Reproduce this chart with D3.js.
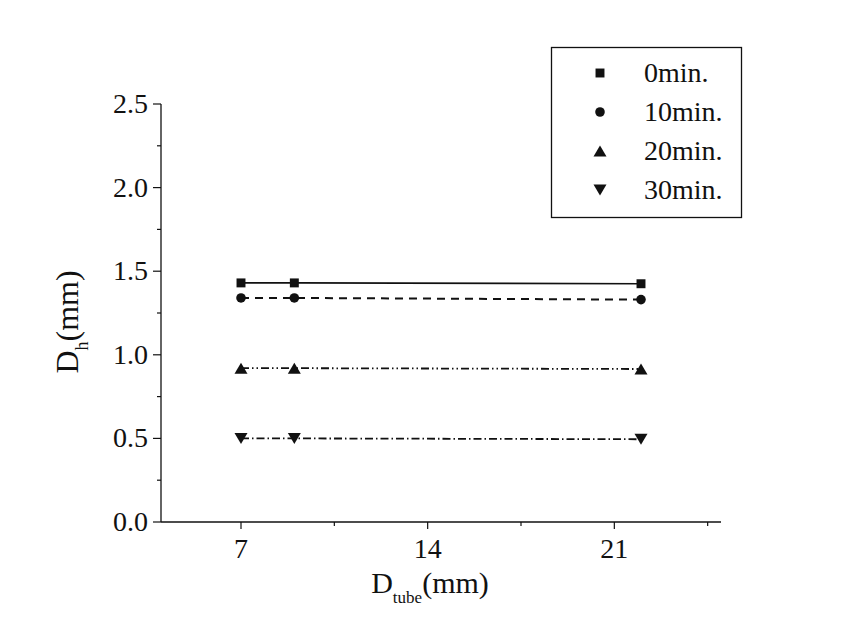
<!DOCTYPE html>
<html><head><meta charset="utf-8">
<script src="https://cdn.jsdelivr.net/npm/d3@7"></script>
<style>
body{margin:0;background:#fff;}
</style></head>
<body><svg id="c" width="862" height="622"></svg>
<script>
const xValues = [7, 9, 22];
const seriesNames = ["0min.", "10min.", "20min.", "30min."];
const values0 = [1.43, 1.43, 1.425];
const values10 = [1.34, 1.34, 1.33];
const values20 = [0.92, 0.92, 0.915];
const values30 = [0.50, 0.50, 0.495];
const xTicks = [7, 14, 21];
const xMinorTicks = [10.5, 17.5, 24.5];
const yTicks = [0, 0.5, 1.0, 1.5, 2.0, 2.5];
const yMinorTicks = [0.25, 0.75, 1.25, 1.75, 2.25];

const FONT = "'Liberation Serif', 'Times New Roman', serif";
const tri = {draw(ctx, size) { const w = 6.5, h = 5.5; ctx.moveTo(0, -h); ctx.lineTo(w, h); ctx.lineTo(-w, h); ctx.closePath(); }};
const series = [
  {name: seriesNames[0], vals: values0, sym: d3.symbolSquare, size: 80, dash: null, rot: 0, sw: 1.6},
  {name: seriesNames[1], vals: values10, sym: d3.symbolCircle, size: 72, dash: "8,6", rot: 0, sw: 2},
  {name: seriesNames[2], vals: values20, sym: tri, size: 1, dash: "8,3,1.5,3,1.5,3", rot: 0, sw: 1.8},
  {name: seriesNames[3], vals: values30, sym: tri, size: 1, dash: "8,3,1.5,3", rot: 180, sw: 1.8}
];

const svg = d3.select("#c");
const x = d3.scaleLinear().domain([4, 25]).range([161, 721]);
const y = d3.scaleLinear().domain([0, 2.5]).range([522, 104]);
const ink = "#111";

// X axis
const gx = svg.append("g").attr("transform", "translate(0,522)");
gx.append("line").attr("x1", x(4)).attr("x2", x(25)).attr("stroke", ink).attr("stroke-width", 1.3);
gx.selectAll(".xt").data(xTicks).join("line").attr("x1", d => x(d)).attr("x2", d => x(d))
  .attr("y1", 0).attr("y2", 7).attr("stroke", ink).attr("stroke-width", 1.2);
gx.selectAll(".xm").data(xMinorTicks).join("line").attr("x1", d => x(d)).attr("x2", d => x(d))
  .attr("y1", 0).attr("y2", 4).attr("stroke", ink).attr("stroke-width", 1.2);
gx.selectAll(".xl").data(xTicks).join("text").attr("x", d => x(d)).attr("y", 36)
  .attr("text-anchor", "middle").style("font-family", FONT).attr("font-size", 28).attr("fill", ink).text(d => d);

// Y axis
const gy = svg.append("g").attr("transform", "translate(161,0)");
gy.append("line").attr("y1", y(0)).attr("y2", y(2.5)).attr("stroke", ink).attr("stroke-width", 1.3);
gy.selectAll(".yt").data(yTicks).join("line").attr("y1", d => y(d)).attr("y2", d => y(d))
  .attr("x1", 0).attr("x2", -8).attr("stroke", ink).attr("stroke-width", 1.2);
gy.selectAll(".ym").data(yMinorTicks).join("line").attr("y1", d => y(d)).attr("y2", d => y(d))
  .attr("x1", 0).attr("x2", -4).attr("stroke", ink).attr("stroke-width", 1.2);
gy.selectAll(".yl").data(yTicks).join("text").attr("x", -13).attr("y", d => y(d) + 9)
  .attr("text-anchor", "end").style("font-family", FONT).attr("font-size", 28).attr("fill", ink).text(d => d.toFixed(1));

// Axis titles
const xt = svg.append("text").attr("x", 430).attr("y", 593).attr("text-anchor", "middle")
  .style("font-family", FONT).attr("font-size", 30).attr("fill", ink);
xt.append("tspan").text("D");
xt.append("tspan").attr("font-size", 17).attr("dy", 10).text("tube");
xt.append("tspan").attr("dy", -10).text("(mm)");

const yt = svg.append("text").attr("transform", "translate(78,322) rotate(-90)")
  .attr("text-anchor", "middle").style("font-family", FONT).attr("font-size", 32).attr("fill", ink);
yt.append("tspan").text("D");
yt.append("tspan").attr("font-size", 18).attr("dy", 10).text("h");
yt.append("tspan").attr("dy", -10).text("(mm)");

// Lines and markers
const line = d3.line().x((d, i) => x(xValues[i])).y(d => y(d));
series.forEach(s => {
  svg.append("path").attr("d", line(s.vals)).attr("fill", "none").attr("stroke", ink)
    .attr("stroke-width", s.sw).attr("stroke-dasharray", s.dash);
  svg.selectAll(null).data(s.vals).join("path")
    .attr("d", d3.symbol().type(s.sym).size(s.size))
    .attr("transform", (d, i) => `translate(${x(xValues[i])},${y(d)}) rotate(${s.rot})`)
    .attr("fill", ink);
});

// Legend
const lg = svg.append("g");
lg.append("rect").attr("x", 551.5).attr("y", 47.5).attr("width", 190).attr("height", 170)
  .attr("fill", "none").attr("stroke", ink).attr("stroke-width", 1.3);
const rowY = d3.scalePoint().domain(seriesNames).range([73, 190]);
series.forEach(s => {
  lg.append("path").attr("d", d3.symbol().type(s.sym).size(s.size))
    .attr("transform", `translate(600,${rowY(s.name)}) rotate(${s.rot})`).attr("fill", ink);
  lg.append("text").attr("x", 644).attr("y", rowY(s.name) + 9).style("font-family", FONT).attr("font-size", 28)
    .attr("fill", ink).text(s.name);
});
</script></body></html>
